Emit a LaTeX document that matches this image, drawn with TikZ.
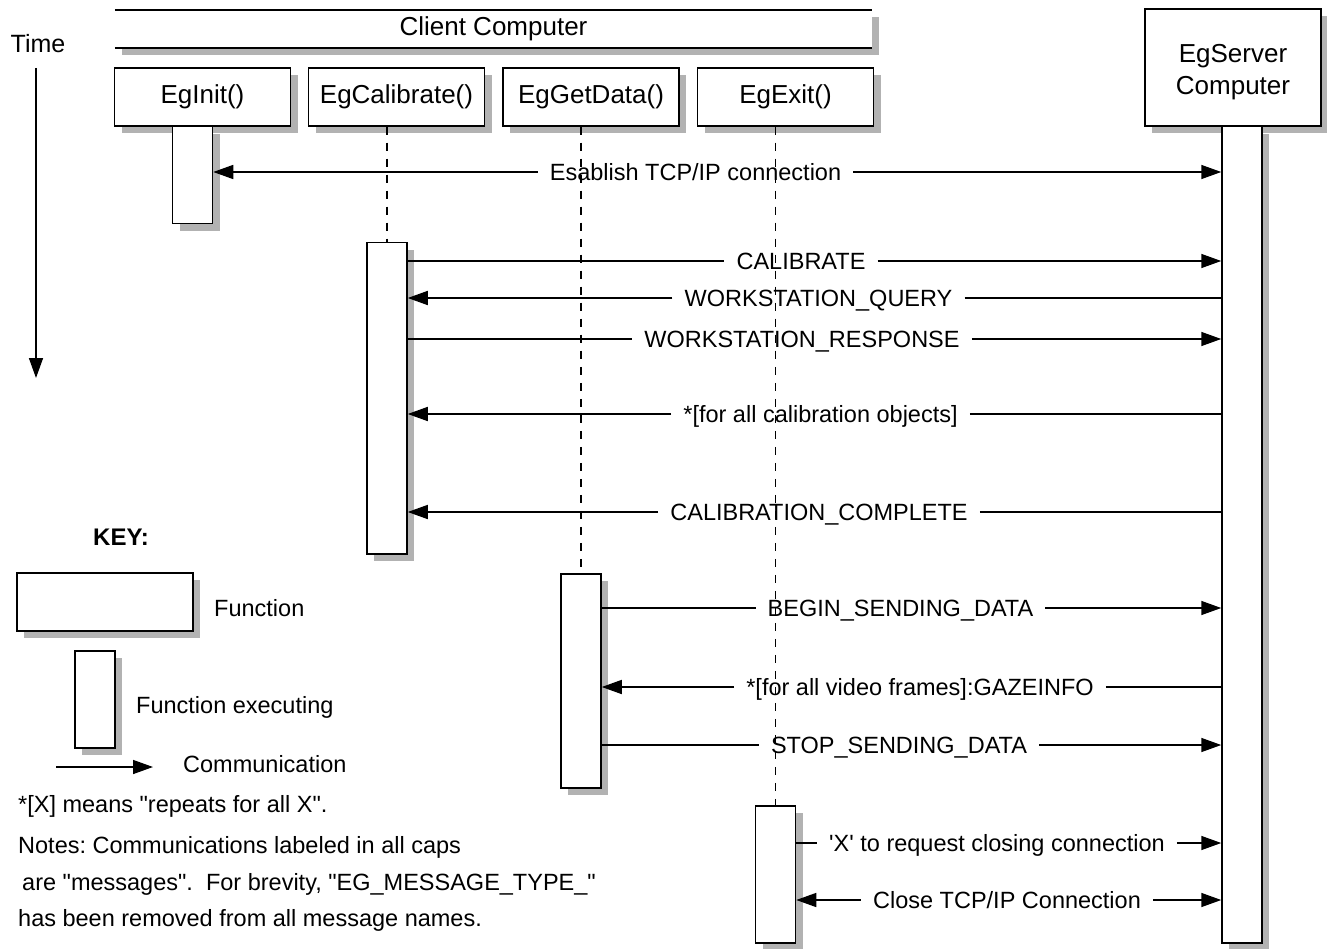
\documentclass[tikz,border=0pt]{standalone}
\usepackage{fontspec}
\setmainfont{Liberation Sans}
\usetikzlibrary{arrows.meta,shadows}
\frenchspacing
\begin{document}
\begin{tikzpicture}[x=1pt,y=-1pt,
  shad/.style={drop shadow={shadow xshift=7pt,shadow yshift=-7pt,opacity=0.3,fill=black}},
  fbox/.style={draw,line width=1.5pt,fill=white,shad,minimum width=176pt,minimum height=58pt,inner sep=0pt,font=\fontsize{26}{32}\selectfont,align=center},
  act/.style={draw,line width=1.5pt,fill=white,shad,minimum width=40pt,inner sep=0pt,anchor=north},
  life/.style={line width=1.5pt,dash pattern=on 8pt off 8pt},
  ln/.style={line width=1.5pt},
  arr/.style={ln,-{Triangle[length=20pt,width=14pt]}},
  msg/.style={font=\fontsize{23.5}{28}\selectfont,text height=17pt,text depth=0pt,inner xsep=12pt,inner ysep=0pt},
  note/.style={font=\fontsize{23.5}{28}\selectfont,text height=17pt,text depth=0pt,inner sep=0pt,anchor=west},
]
\useasboundingbox (0,0) rectangle (1327,949);

% Time axis
\node[font=\fontsize{25}{30}\selectfont] (time) at (38,44) {Time};
\coordinate (t0) at (36,68);
\coordinate (t1) at (36,378);
\draw[arr] (t0) -- (t1);

% Client computer bar
\node[draw=none,fill=white,shad,minimum width=757pt,minimum height=38pt,inner sep=0pt,font=\fontsize{26}{32}\selectfont] (client) at (493.5,29) {Client Computer};
\draw[ln] (client.north west) -- (client.north east);
\draw[ln] (client.south west) -- (client.south east);

% Function boxes
\node[fbox] (init) at (202.5,97) {EgInit()};
\node[fbox] (cal) at (396.5,97) {EgCalibrate()};
\node[fbox] (get) at (591,97) {EgGetData()};
\node[fbox] (exit) at (785.5,97) {EgExit()};
\node[fbox,minimum height=117pt,
  label={[align=center,font=\fontsize{26}{32}\selectfont,yshift=-5pt]center:{EgServer\\Computer}}] (srv) at (1233,67.5) {};

% Activation bars
\node[act,minimum height=97pt] (initact) at (192.5,126) {};
\node[act,minimum height=311pt] (calact) at (387,242) {};
\node[act,minimum height=214pt] (getact) at (581,573) {};
\node[act,minimum height=137pt] (exitact) at (775.5,805) {};
\node[act,minimum height=816pt] (srvact) at (1242,126) {};

% Lifelines
\draw[life] (calact.north |- cal.south) -- (calact.north);
\draw[life] (getact.north |- get.south) -- (getact.north);
\draw[life] (exitact.north |- exit.south) -- (exitact.north);

% Messages
\node[msg] (m1) at (695.5,172) {Esablish TCP/IP connection};
\draw[arr] (m1.west) -- (initact.east |- m1.west);
\draw[arr] (m1.east) -- (srvact.west |- m1.east);

\node[msg] (m2) at (801,261) {CALIBRATE};
\draw[ln] (calact.east |- m2.west) -- (m2.west);
\draw[arr] (m2.east) -- (srvact.west |- m2.east);

\node[msg] (m3) at (818.5,298) {WORKSTATION\_QUERY};
\draw[arr] (m3.west) -- (calact.east |- m3.west);
\draw[ln] (m3.east) -- (srvact.west |- m3.east);

\node[msg] (m4) at (802,339) {WORKSTATION\_RESPONSE};
\draw[ln] (calact.east |- m4.west) -- (m4.west);
\draw[arr] (m4.east) -- (srvact.west |- m4.east);

\node[msg] (m5) at (820.5,414) {*[for all calibration objects]};
\draw[arr] (m5.west) -- (calact.east |- m5.west);
\draw[ln] (m5.east) -- (srvact.west |- m5.east);

\node[msg] (m6) at (819,512) {CALIBRATION\_COMPLETE};
\draw[arr] (m6.west) -- (calact.east |- m6.west);
\draw[ln] (m6.east) -- (srvact.west |- m6.east);

\node[msg] (m7) at (900.5,608) {BEGIN\_SENDING\_DATA};
\draw[ln] (getact.east |- m7.west) -- (m7.west);
\draw[arr] (m7.east) -- (srvact.west |- m7.east);

\node[msg] (m8) at (920,687) {*[for all video frames]:GAZEINFO};
\draw[arr] (m8.west) -- (getact.east |- m8.west);
\draw[ln] (m8.east) -- (srvact.west |- m8.east);

\node[msg] (m9) at (899,745) {STOP\_SENDING\_DATA};
\draw[ln] (getact.east |- m9.west) -- (m9.west);
\draw[arr] (m9.east) -- (srvact.west |- m9.east);

\node[msg] (m10) at (997,843) {\textquotesingle X\textquotesingle{} to request closing connection};
\draw[ln] (exitact.east |- m10.west) -- (m10.west);
\draw[arr] (m10.east) -- (srvact.west |- m10.east);

\node[msg] (m11) at (1007,900) {Close TCP/IP Connection};
\draw[arr] (m11.west) -- (exitact.east |- m11.west);
\draw[arr] (m11.east) -- (srvact.west |- m11.east);

% Key
\node[note,font=\bfseries\fontsize{24}{28}\selectfont] (key) at (93,537) {KEY:};
\node[fbox] (kfun) at (105,602) {};
\node[note] (kfunl) at (214,608) {Function};
\node[act,minimum height=97pt] (kexe) at (95,650) {};
\node[note] (kexel) at (136,705) {Function executing};
\coordinate (k0) at (56,767);
\coordinate (k1) at (153,767);
\draw[arr] (k0) -- (k1);
\node[note] (kcom) at (183,764) {Communication};

% Notes
\node[note] (n1) at (18,804) {*[X] means \textquotedbl repeats for all X\textquotedbl.};
\node[note] (n2) at (18,845) {Notes: Communications labeled in all caps};
\node[note] (n3) at (22,882) {are \textquotedbl messages\textquotedbl.\ \ For brevity, \textquotedbl EG\_MESSAGE\_TYPE\_\textquotedbl};
\node[note] (n4) at (18,918) {has been removed from all message names.};
\end{tikzpicture}
\end{document}
